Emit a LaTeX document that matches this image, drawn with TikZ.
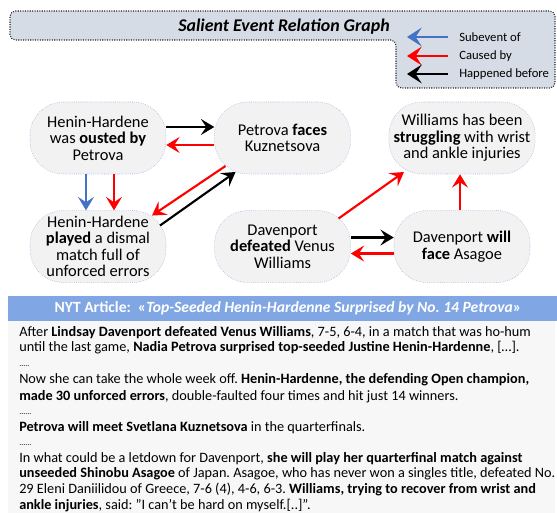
\documentclass[tikz,border=0pt]{standalone}
\usepackage{fontspec}
\setmainfont{Carlito}
\usetikzlibrary{arrows.meta, positioning, calc}
\definecolor{titlefill}{HTML}{D6DCE5}
\definecolor{eventfill}{HTML}{F2F2F2}
\definecolor{eventline}{HTML}{8FAADC}
\definecolor{subblue}{HTML}{4472C4}
\definecolor{headblue}{HTML}{80A6E3}
\definecolor{bodyfill}{HTML}{F7F7F7}
\frenchspacing

\begin{document}
\begin{tikzpicture}[x=0.75pt, y=-0.75pt, node distance=27pt and 36pt,
    event/.style={draw=eventline, densely dotted, fill=eventfill, rounded corners=25pt,
        minimum width=102pt, minimum height=54pt, inner xsep=3.5pt, inner ysep=1pt,
        align=center, font=\fontsize{12.3}{12.4}\selectfont},
    subevent/.style={draw=subblue, line width=1.6pt, -{Stealth[length=10pt, width=12pt, inset=4pt]}},
    caused/.style={subevent, draw=red},
    happened/.style={subevent, draw=black},
    key/.style={line width=2.2pt, -{Stealth[length=11pt, width=14pt, inset=4.5pt]}},
    legend/.style={anchor=west, inner sep=0pt, font=\fontsize{9.5}{11}\selectfont},
    artline/.style={anchor=base west, inner sep=0pt, font=\fontsize{10.7}{12}\selectfont},
    dots/.style={artline, font=\fontsize{6}{7}\selectfont}]
    \useasboundingbox (0,0) rectangle (557,513);

    % title and legend box
    \draw[densely dotted, line width=0.8pt, draw=black!85, fill=titlefill, rounded corners=4pt]
        (10,11) -- (555,11) -- (555,88) -- (396,88) -- (396,40) -- (10,40) -- cycle;
    \node[font=\fontsize{13.4}{15}\selectfont\bfseries\itshape] (TTL) at (284,27) {Salient Event Relation Graph};
    \node[legend] (LS) at (459,37) {Subevent of};
    \node[legend] (LC) at (459,56) {Caused by};
    \node[legend] (LH) at (459,74) {Happened before};
    \draw[subevent, key] ($(LS.west)+(-11,0)$) -- ($(LS.west)+(-52,0)$);
    \draw[caused, key] ($(LC.west)+(-11,0)$) -- ($(LC.west)+(-52,0)$);
    \draw[happened, key] ($(LH.west)+(-11,0)$) -- ($(LH.west)+(-52,0)$);

    % events
    \node[event] (HHO) at (98,138) {Henin-Hardene\\was \textbf{ousted by}\\Petrova};
    \node[event] (HHP) [below=of HHO] {Henin-Hardene\\\textbf{played} a dismal\\match full of\\unforced errors};
    \node[event] (PF) [right=of HHO] {Petrova \textbf{faces}\\Kuznetsova};
    \node[event] (DD) [below=of PF] {Davenport\\\textbf{defeated} Venus\\Williams};
    \node[event] (WS) at (462,138) {Williams has been\\\textbf{struggling} with wrist\\and ankle injuries};
    \node[event] (DF) [below=of WS] {Davenport \textbf{will}\\\textbf{face} Asagoe};

    \draw[happened] ($(HHO.east)+(0,-11)$) -- ($(PF.west)+(0,-11)$);
    \draw[caused] ($(PF.west)+(0,7)$) -- ($(HHO.east)+(0,7)$);
    \draw[subevent] ($(HHO.south)+(-12,0)$) -- ($(HHP.north)+(-12,0)$);
    \draw[caused] ($(HHO.south)+(16,0)$) -- ($(HHP.north)+(16,0)$);
    \draw[caused] ($(PF.center)+(-57,28)$) -- ($(HHP.center)+(54,-31)$);
    \draw[happened] ($(HHP.center)+(62,-21)$) -- ($(PF.center)+(-47,34)$);
    \draw[happened] ($(DD.east)+(0,-9)$) -- ($(DF.west)+(0,-9)$);
    \draw[caused] ($(DF.west)+(0,7)$) -- ($(DD.east)+(0,7)$);
    \draw[caused] ($(DD.center)+(56,-28)$) -- ($(WS.center)+(-58,34)$);
    \draw[caused] ($(DF.north)+(-2,0)$) -- ($(WS.south)+(-2,0)$);

    % article
    \fill[headblue] (8,296) rectangle (557,321);
    \fill[bodyfill] (8,321) rectangle (555,513);
    \node[text=white, font=\fontsize{11.7}{13}\selectfont\bfseries] (NYT) at (288,308)
        {NYT Article:\ \ «\textit{Top-Seeded Henin-Hardenne Surprised by No. 14 Petrova}»};
    \node[artline] (L1) at (19,337) {After \textbf{Lindsay Davenport defeated Venus Williams}, 7-5, 6-4, in a match that was ho-hum};
    \node[artline] (L2) at (19,352) {until the last game, \textbf{Nadia Petrova surprised top-seeded Justine Henin-Hardenne}, […].};
    \node[dots] (D1) at (19,366) {.....};
    \node[artline] (L3) at (19,383) {Now she can take the whole week off. \textbf{Henin-Hardenne, the defending Open champion,}};
    \node[artline] (L4) at (19,400) {\textbf{made 30 unforced errors}, double-faulted four times and hit just 14 winners.};
    \node[dots] (D2) at (19,414) {......};
    \node[artline] (L5) at (19,431) {\textbf{Petrova will meet Svetlana Kuznetsova} in the quarterfinals.};
    \node[dots] (D3) at (19,445) {......};
    \node[artline] (L6) at (19,462) {In what could be a letdown for Davenport, \textbf{she will play her quarterfinal match against}};
    \node[artline] (L7) at (19,477) {\textbf{unseeded Shinobu Asagoe} of Japan. Asagoe, who has never won a singles title, defeated No.};
    \node[artline] (L8) at (19,493) {29 Eleni Daniilidou of Greece, 7-6 (4), 4-6, 6-3. \textbf{Williams, trying to recover from wrist and}};
    \node[artline] (L9) at (19,509) {\textbf{ankle injuries}, said: "I can't be hard on myself.[..]''.};
\end{tikzpicture}
\end{document}
